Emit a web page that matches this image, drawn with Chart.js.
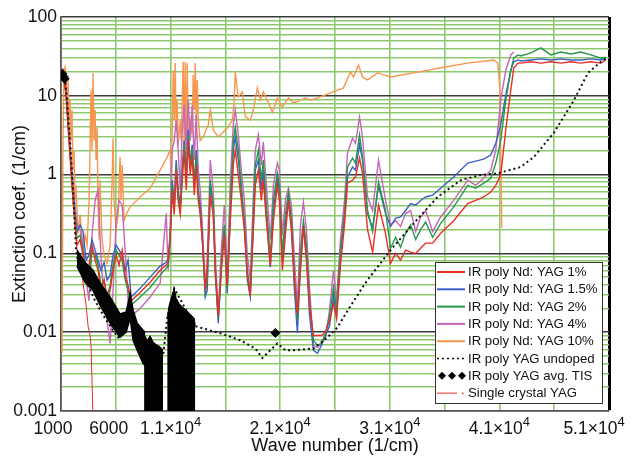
<!DOCTYPE html>
<html>
<head>
<meta charset="utf-8">
<script src="https://cdn.jsdelivr.net/npm/chart.js@4.4.1/dist/chart.umd.min.js"></script>
<style>
  html, body { margin: 0; padding: 0; background: #fff; }
  #wrap { width: 639px; height: 457px; }
</style>
</head>
<body>
<div id="wrap"><canvas id="c" width="639" height="457"></canvas></div>
<script>
// wave numbers (1/cm) shared by the doped samples
const wnDoped = [1180,1460,1730,2000,2280,2460,
  2740,3010,3290,3560,3830,4110,4380,4660,4930,5200,5480,5750,6030,6300,6580,6850,7120,7400,8220,9130,10050,10600,10780,
  10960,11150,11330,11510,11690,11880,12060,12240,12430,12610,12790,12970,13160,13340,13520,13700,13890,14160,14340,14620,
  14890,15080,15350,15620,15900,16170,16450,16720,16900,17180,17450,17730,18000,18270,18550,18730,19010,19280,19460,19740,
  20100,20380,20740,20930,21200,21470,21750,22020,22300,22570,22850,23120,23390,23670,24030,24400,24760,25130,25500,25860,
  26140,26500,
  26870,27140,27600,27870,28240,28510,28970,29430,29970,30610,31070,31530,31980,32440,32900,33360,33810,34270,34910,35640,
  36830,38110,38840,39570,40210,40670,41120,41580,42040,42310,42680,42950,43870,44780,45690,46610,47530,48440,49350,50270,50720];

// extinction coef. (1/cm)
const nd1 = [20,10.2,2.7,0.73,0.23,0.127,
  0.15,0.095,0.053,0.071,0.127,0.082,0.061,0.034,0.046,0.025,0.034,0.061,0.095,0.071,0.11,0.053,0.039,0.025,0.032,0.043,0.061,0.071,0.077,
  0.15,0.64,0.31,1.14,0.47,0.31,0.85,2.05,0.64,2.7,0.99,1.77,0.55,1.32,0.47,0.31,0.15,0.034,0.061,0.55,
  0.31,0.061,0.016,0.061,0.17,0.039,0.26,1.32,2.05,0.99,0.47,0.20,0.053,0.029,0.20,0.73,1.14,0.47,0.85,0.26,
  0.071,0.26,0.73,0.47,0.061,0.17,0.47,0.20,0.046,0.017,0.061,0.22,0.082,0.022,0.0091,0.0091,0.0091,0.010,0.014,0.023,
  0.015,0.071,
  0.23,0.78,0.85,0.93,1.62,1.04,0.20,0.104,0.41,0.18,0.075,0.10,0.082,0.11,0.104,0.10,0.116,0.135,0.135,0.18,
  0.26,0.43,0.47,0.52,0.60,0.73,0.99,3.7,11.9,22.5,26,26,27,26,27,26,27,26,27,26,28.5];

const nd15 = [20,11.2,3.2,0.85,0.31,0.19,
  0.23,0.19,0.082,0.095,0.15,0.11,0.082,0.061,0.077,0.046,0.053,0.095,0.127,0.11,0.095,0.061,0.082,0.028,0.036,0.050,0.069,0.077,0.087,
  0.17,0.85,0.41,1.53,0.64,0.41,1.14,2.7,0.99,3.7,1.32,2.4,0.73,2.05,0.64,0.41,0.17,0.028,0.034,0.73,
  0.41,0.053,0.013,0.061,0.20,0.031,0.35,2.05,3.0,1.53,0.64,0.23,0.046,0.028,0.23,1.14,1.53,0.64,1.14,0.31,
  0.067,0.35,0.90,0.60,0.077,0.23,0.55,0.23,0.034,0.0097,0.071,0.23,0.095,0.017,0.0059,0.0054,0.0068,0.0091,0.012,0.029,
  0.016,0.095,
  0.31,0.93,1.25,1.14,2.4,1.53,0.32,0.21,0.73,0.32,0.22,0.28,0.29,0.35,0.43,0.41,0.47,0.52,0.55,0.67,
  0.93,1.40,1.48,1.57,1.77,2.5,4.3,10.2,21,27,28.5,27.7,28.5,29.4,28.5,29.4,28.5,28.5,29.4,28.5,30];

const nd2 = [20,10.9,3.0,0.90,0.28,0.156,
  0.17,0.11,0.061,0.039,0.11,0.095,0.071,0.039,0.046,0.029,0.039,0.071,0.11,0.095,0.082,0.046,0.034,0.022,0.028,0.037,0.053,0.065,0.069,
  0.156,0.73,0.35,1.32,0.55,0.35,0.99,2.4,0.85,3.2,1.21,2.17,0.67,1.77,0.58,0.35,0.156,0.032,0.046,0.85,
  0.41,0.061,0.015,0.071,0.23,0.036,0.41,2.7,4.0,2.05,0.73,0.26,0.061,0.034,0.31,1.32,2.05,0.85,1.53,0.41,
  0.087,0.47,1.04,0.73,0.095,0.31,0.58,0.28,0.048,0.014,0.11,0.26,0.127,0.025,0.0079,0.0068,0.0072,0.0097,0.016,0.037,
  0.020,0.11,
  0.33,1.25,1.62,1.40,3.2,1.67,0.35,0.19,0.80,0.35,0.116,0.16,0.12,0.18,0.23,0.15,0.20,0.25,0.16,0.24,
  0.39,0.73,0.67,0.78,0.90,1.40,2.7,8.8,21,30,33,32,35,40.5,33,36,34,36,33,30,31];

const nd4 = [20,11.9,3.7,1.14,0.41,0.23,
  0.20,0.127,0.046,0.025,0.17,0.47,0.64,0.082,0.025,0.014,0.0072,0.034,0.26,0.47,0.41,0.11,0.025,0.016,0.020,0.028,0.042,0.32,0.061,
  0.20,2.05,2.7,4.9,2.05,0.64,3.7,7.6,2.05,8.8,2.7,7.6,1.53,5.7,1.14,0.64,0.23,0.039,0.082,1.53,
  0.64,0.095,0.017,0.11,0.41,0.053,0.85,4.3,6.6,3.2,1.14,0.47,0.095,0.046,0.55,2.05,3.2,1.32,2.6,0.73,
  0.15,0.73,1.40,1.14,0.17,0.47,0.67,0.41,0.082,0.022,0.23,0.45,0.20,0.039,0.0068,0.0064,0.0072,0.0084,0.019,0.061,
  0.025,0.15,
  0.47,1.88,2.9,2.5,5.4,3.0,0.52,0.35,1.53,0.47,0.23,0.26,0.22,0.32,0.35,0.19,0.29,0.35,0.19,0.29,
  0.47,0.85,0.73,0.90,1.14,2.05,8.8,21,33,36,null,null,null,null,null,null,null,null,null,null,null];

const wnNd10 = [1090,1180,1270,1370,1460,1550,1640,1730,1820,1910,2000,2100,2190,2280,2370,2550,2740,3010,3190,3380,
  3560,3650,3740,3830,3920,4020,4110,4200,4290,4380,4470,4560,4750,4930,5200,5480,5660,5750,5840,6030,
  6210,6390,6480,6580,6760,7030,7310,8220,9130,10050,10690,10960,11050,11150,11240,11330,11420,11510,11600,11690,
  11880,11970,12150,12240,12330,12430,12520,12610,12790,12970,13060,13160,13250,13340,13430,13520,13700,13980,14440,14620,
  14890,15350,16170,16630,16810,16900,17090,17180,17540,17820,18270,18550,18910,19190,19460,19920,20290,20740,21200,21750,
  22200,22850,23300,23760,24670,25590,26770,27410,27690,28150,28510,28970,29880,30430,31070,33540,35910,38110,40480,40850,
  41030,41120,41220];
const nd10 = [0.0055,2.5,20,23,18.4,6.6,15.9,4.9,8.8,2.7,6.6,1.14,2.05,0.47,0.73,0.18,0.31,0.11,0.17,0.127,
  0.47,2.05,11.9,2.05,19.5,2.7,6.6,1.53,4.0,0.47,0.15,0.85,0.15,0.095,0.075,0.127,0.85,2.9,0.47,0.20,
  0.31,1.67,0.47,1.32,0.26,0.33,0.39,0.52,0.67,1.14,1.67,2.05,0.99,3.7,21,4.9,26,3.7,8.8,2.4,
  4.9,2.7,27,2.05,27,1.77,26,2.7,4.9,3.2,18.4,6.6,26,3.7,15.9,5.4,2.7,3.0,4.3,6.6,
  3.7,3.0,3.9,4.9,8.8,20,11.9,9.7,11.2,5.4,4.9,6.6,12.6,8.8,11.2,8.1,6.2,9.4,7.2,9.4,
  8.1,8.8,9.4,8.8,9.7,10.9,12.6,20,17.3,24.6,17.3,15.9,19.5,18.4,17.3,20,23,26,28.5,26,
  13,2.05,0.21];

const wnUndoped = [1180,1370,1550,1820,2100,2370,2550,3190,4110,5020,5940,6210,6580,6940,7310,7580,7950,8490,8680,10320,
  10690,11330,12430,13250,15530,17360,18730,19370,20100,20740,21470,22200,24030,25310,26230,26960,28330,28970,31070,33170,
  35360,37470,39300,40850,42950,44140,45970,47800,49080,50270,50900];
const undoped = [19.5,15.9,8.8,2.7,0.64,0.11,0.077,0.048,0.025,0.015,0.0097,0.0086,0.0097,0.0134,0.028,0.014,0.0091,0.0059,0.0079,0.005,
  0.015,0.036,0.019,0.0119,0.0097,0.0079,0.0062,0.0047,0.0059,0.0072,0.0059,0.0059,0.0062,0.0086,0.0115,0.017,0.034,0.046,0.11,0.24,
  0.52,0.85,0.99,1.04,1.25,1.67,3.4,8.8,19.5,27,31];

// dense scatter of the undoped scan: upper / lower edge of the band, and noisy blocks reaching the floor
const wnBand = [2460,3190,3920,4560,5480,6390,6940,7310,7580,7950,8490,8680];
const bandTop = [0.11,0.077,0.061,0.042,0.028,0.017,0.018,0.031,0.019,0.013,0.0106,0.010];
const bandLow = [0.069,0.043,0.034,0.022,0.013,0.0086,0.010,0.015,0.0079,0.0059,0.0040,0.0038];
const wnNoise = [8580,8860,9130,9410,9680,10050,10320,10500,10690,10870,11050,11330,11510,11790,12060,12430,12790,13160,13250];
const noise = [0.0095,0.0079,0.0090,0.0075,0.0070,0.0065,0.0060,null,0.015,0.022,0.027,0.036,0.027,0.023,0.021,0.019,0.017,0.015,0.012];

const wnTis = [1130,1230,1330,20560];
const tis = [19,17.5,16.5,0.0098];

const wnSingle = [1180,1460,1730,2000,2280,2460,2740,2920,3100,3290,3470,3650,3740,3830,3920];
const single = [22.5,10.2,2.7,0.73,0.23,0.11,0.077,0.053,0.034,0.022,0.012,0.0091,0.0068,0.0024,0.0008];

// axes
const xGrid = [1000,6000,11000,16000,21000,26000,31000,36000,41000,46000,51000];
const xLabelVals = [1000,6000,11000,21000,31000,41000,51000];
const xLabelBase = ['1000','6000','1.1\u00d710','2.1\u00d710','3.1\u00d710','4.1\u00d710','5.1\u00d710'];
const xLabelExp = ['','','4','4','4','4','4'];
const yDecades = [0.001,0.01,0.1,1,10,100];

const FONT = "'Liberation Sans', Arial, Helvetica, sans-serif";
const GREEN_GRID = '#8dca6e';

const yTicks = [];
yDecades.forEach(d => {
  if (d === 100) { yTicks.push(d); return; }
  for (let m = 1; m <= 9; m++) yTicks.push(+(m * d).toPrecision(3));
});
const isDecade = v => Math.abs(Math.log10(v) - Math.round(Math.log10(v))) < 1e-9;
const pts = (xs, ys) => xs.map((x, i) => ({ x: x, y: ys[i] }));

function line(label, xs, ys, color, width, order, extra) {
  return Object.assign({
    label: label, data: pts(xs, ys), borderColor: color, backgroundColor: color,
    borderWidth: width, pointRadius: 0, fill: false, tension: 0, order: order
  }, extra || {});
}

const datasets = [
  line('noise', wnNoise, noise, '#000', 1, 0, { fill: 'start', backgroundColor: '#000' }),
  line('band top', wnBand, bandTop, '#000', 1.5, 1, { fill: '+1', backgroundColor: '#050505' }),
  line('band low', wnBand, bandLow, '#000', 1.5, 1),
  line('IR poly YAG undoped', wnUndoped, undoped, '#111', 2, 2, { borderDash: [2, 3] }),
  line('IR poly YAG avg. TIS', wnTis, tis, '#000', 1, 3, { showLine: false, pointStyle: 'rectRot', pointRadius: 4.5 }),
  line('Single crystal YAG', wnSingle, single, '#ea2e25', 1, 4),
  line('IR poly Nd: YAG 1%', wnDoped, nd1, '#ea2e25', 1.4, 5),
  line('IR poly Nd: YAG 2%', wnDoped, nd2, '#26974a', 1.4, 6),
  line('IR poly Nd: YAG 1.5%', wnDoped, nd15, '#3c5fc8', 1.4, 7),
  line('IR poly Nd: YAG 4%', wnDoped, nd4, '#c566b9', 1.4, 8),
  line('IR poly Nd: YAG 10%', wnNd10, nd10, '#f7964f', 1.4, 9)
];

// legend rows: [dataset label, sample kind]
const legendRows = [
  ['IR poly Nd: YAG 1%', 'line'],
  ['IR poly Nd: YAG 1.5%', 'line'],
  ['IR poly Nd: YAG 2%', 'line'],
  ['IR poly Nd: YAG 4%', 'line'],
  ['IR poly Nd: YAG 10%', 'line'],
  ['IR poly YAG undoped', 'dots'],
  ['IR poly YAG avg. TIS', 'diamonds'],
  ['Single crystal YAG', 'dashdot']
];

const boxLegend = {
  id: 'boxLegend',
  afterDatasetsDraw(chart) {
    const ctx = chart.ctx, a = chart.chartArea;
    const bx = a.right - 174, by = a.bottom - 149, bw = 167, bh = 141;
    ctx.save();
    ctx.fillStyle = '#fff';
    ctx.fillRect(bx, by, bw, bh);
    ctx.strokeStyle = '#333';
    ctx.lineWidth = 1;
    ctx.strokeRect(bx + 0.5, by + 0.5, bw, bh);
    ctx.font = '13.2px ' + FONT;
    ctx.textBaseline = 'middle';
    legendRows.forEach((row, i) => {
      const ds = chart.data.datasets.find(d => d.label === row[0]);
      const y = by + 10 + i * 17.3;
      const x0 = bx + 2, x1 = bx + 30;
      ctx.strokeStyle = ds.borderColor;
      ctx.fillStyle = ds.borderColor;
      if (row[1] === 'line') {
        ctx.lineWidth = 2; ctx.setLineDash([]);
        ctx.beginPath(); ctx.moveTo(x0, y); ctx.lineTo(x1, y); ctx.stroke();
      } else if (row[1] === 'dots') {
        ctx.lineWidth = 1.5; ctx.setLineDash([2, 3]);
        ctx.beginPath(); ctx.moveTo(x0, y); ctx.lineTo(x1, y); ctx.stroke();
        ctx.setLineDash([]);
      } else if (row[1] === 'diamonds') {
        [5, 15, 25].forEach(dx => {
          const cx = x0 + dx;
          ctx.beginPath();
          ctx.moveTo(cx, y - 4); ctx.lineTo(cx + 4, y); ctx.lineTo(cx, y + 4); ctx.lineTo(cx - 4, y);
          ctx.closePath(); ctx.fill();
        });
      } else {
        ctx.lineWidth = 1; ctx.setLineDash([]);
        ctx.beginPath(); ctx.moveTo(x0, y); ctx.lineTo(x0 + 20, y); ctx.stroke();
        ctx.fillRect(x0 + 25, y - 0.5, 1.5, 1.5);
      }
      ctx.fillStyle = '#111';
      ctx.fillText(row[0], bx + 33, y + 0.5);
    });
    ctx.restore();
  }
};

// x tick labels with raised exponent
const xShift = [-8, -7, 0, 0, 0, 0, -15];
const xTickText = {
  id: 'xTickText',
  afterDraw(chart) {
    const ctx = chart.ctx, sx = chart.scales.x;
    ctx.save();
    ctx.fillStyle = '#111';
    ctx.textBaseline = 'alphabetic';
    ctx.textAlign = 'left';
    xLabelVals.forEach((v, i) => {
      const px = sx.getPixelForValue(v) + xShift[i];
      ctx.font = '17.5px ' + FONT;
      const w1 = ctx.measureText(xLabelBase[i]).width;
      ctx.font = '13px ' + FONT;
      const w2 = xLabelExp[i] ? ctx.measureText(xLabelExp[i]).width : 0;
      const start = px - (w1 + w2) / 2;
      ctx.font = '17.5px ' + FONT;
      ctx.fillText(xLabelBase[i], start, 434);
      if (xLabelExp[i]) {
        ctx.font = '13px ' + FONT;
        ctx.fillText(xLabelExp[i], start + w1, 426);
      }
    });
    ctx.restore();
  }
};

new Chart(document.getElementById('c'), {
  type: 'line',
  data: { datasets: datasets },
  plugins: [boxLegend, xTickText],
  options: {
    responsive: false,
    animation: false,
    devicePixelRatio: 1,
    events: [],
    layout: { padding: { left: 0, right: 30, top: 17, bottom: 0 } },
    plugins: { legend: { display: false }, tooltip: { enabled: false } },
    scales: {
      x: {
        type: 'linear', min: 1000, max: 51000,
        afterBuildTicks: s => { s.ticks = xGrid.map(v => ({ value: v })); },
        afterFit: s => { s.height = 46; },
        ticks: { display: false, autoSkip: false },
        grid: {
          drawTicks: false,
          color: c => c.tick.value === 51000 ? '#000' : (c.tick.value === 1000 ? '#555' : GREEN_GRID),
          lineWidth: c => c.tick.value === 51000 ? 3 : 1.6
        },
        border: { display: true, color: '#555', width: 1.5 },
        title: {
          display: true, text: 'Wave number (1/cm)', color: '#111',
          font: { family: FONT, size: 18 }, padding: { top: 0, bottom: 0 }
        }
      },
      y: {
        type: 'logarithmic', min: 0.001, max: 100,
        afterBuildTicks: s => { s.ticks = yTicks.map(v => ({ value: v })); },
        afterFit: s => { s.width = 61; },
        ticks: {
          autoSkip: false, padding: 4, color: '#111',
          font: { family: FONT, size: 17.5 },
          callback: v => isDecade(v) ? String(v) : ''
        },
        grid: {
          drawTicks: false,
          color: c => isDecade(c.tick.value) ? '#3a3a3a' : GREEN_GRID,
          lineWidth: c => isDecade(c.tick.value) ? 1.5 : 1.6
        },
        border: { display: true, color: '#555', width: 1.5 },
        title: {
          display: true, text: 'Extinction coef. (1/cm)', color: '#111',
          font: { family: FONT, size: 18 }, padding: { top: 9, bottom: 0 }
        }
      }
    }
  }
});
</script>
</body>
</html>
